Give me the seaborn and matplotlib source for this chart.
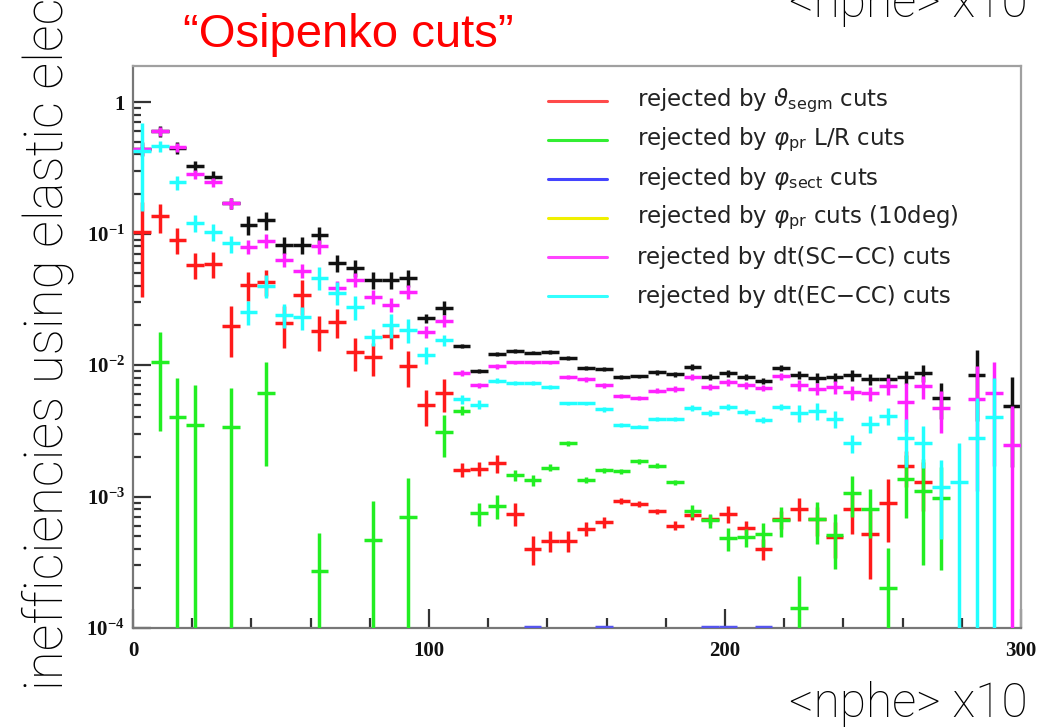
import numpy as np
import matplotlib
matplotlib.use("Agg")
import matplotlib.pyplot as plt
from matplotlib.lines import Line2D
from matplotlib.ticker import FixedLocator, MultipleLocator, LogLocator, NullFormatter
import seaborn as sns

nan = np.nan

# <nphe> binning: 50 bins of width 6 (units of 0.1 photoelectrons)
nphe_edges = np.arange(0, 301, 6)
nphe_centers = 0.5 * (nphe_edges[:-1] + nphe_edges[1:])
half_width = 3.0

# fraction of elastic electrons rejected, per bin (total and per cut)
total_rej = [0.44, 0.60, 0.45, 0.325, 0.27, 0.17, 0.117, 0.126, 0.082, 0.082,
             0.098, 0.060, 0.055, 0.0446, 0.0446, 0.046, 0.0228, 0.0272, 0.0140, 0.0090,
             0.0121, 0.0128, 0.0124, 0.0126, 0.0113, 0.0095, 0.0093, 0.0081, 0.0082, 0.0088,
             0.0085, 0.0097, 0.0081, 0.0087, 0.0081, 0.0076, 0.0095, 0.0084, 0.0080, 0.0081,
             0.0084, 0.0078, 0.0078, 0.0081, 0.0087, 0.0056, nan, 0.0084, nan, 0.0049]
total_rel = [0.12, 0.10, 0.10, 0.10, 0.10, 0.10, 0.17, 0.15, 0.15, 0.15,
             0.15, 0.15, 0.15, 0.15, 0.15, 0.15, 0.08, 0.12, 0.04, 0.04,
             0.04, 0.03, 0.03, 0.03, 0.03, 0.03, 0.04, 0.03, 0.03, 0.04,
             0.04, 0.05, 0.05, 0.06, 0.05, 0.05, 0.06, 0.07, 0.08, 0.08,
             0.10, 0.10, 0.10, 0.12, 0.15, 0.30, nan, 0.55, nan, 0.66]

theta_segm_rej = [0.1035, 0.135, 0.090, 0.058, 0.059, 0.0199, 0.0408, 0.0430, 0.0209, 0.0342,
                  0.0182, 0.0213, 0.0126, 0.0115, 0.0166, 0.0098, 0.00495, 0.0061, 0.0016, 0.00163,
                  0.00179, 0.00074, 0.00040, 0.00046, 0.00046, 0.00057, 0.00064, 0.00093, 0.00088, 0.00077,
                  0.00060, 0.00072, 0.00067, 0.00074, 0.00058, 0.00040, 0.00067, 0.00081, 0.00067, 0.00049,
                  0.00080, 0.00052, 0.00090, 0.0017, 0.0013, nan, nan, nan, nan, nan]
theta_segm_rel = [0.68, 0.25, 0.22, 0.22, 0.22, 0.42, 0.25, 0.22, 0.35, 0.30,
                  0.30, 0.25, 0.28, 0.28, 0.20, 0.30, 0.30, 0.28, 0.12, 0.12,
                  0.15, 0.20, 0.25, 0.18, 0.18, 0.12, 0.10, 0.05, 0.05, 0.05,
                  0.08, 0.08, 0.08, 0.15, 0.12, 0.18, 0.15, 0.20, 0.25, 0.30,
                  0.35, 0.55, 0.50, 0.30, 0.40, nan, nan, nan, nan, nan]

phi_lr_rej = [nan, 0.0105, 0.0040, 0.00348, nan, 0.00336, nan, 0.0061, nan, nan,
              0.000272, nan, nan, 0.00047, nan, 0.00070, nan, 0.0031, 0.0045, 0.00075,
              0.00085, 0.00145, 0.00133, 0.00166, 0.00254, 0.00133, 0.00158, 0.00155, 0.00185, 0.00172,
              0.00128, 0.00078, 0.00066, 0.00048, 0.00049, 0.00052, 0.00066, 0.000142, 0.00067, 0.00051,
              0.00107, 0.00081, 0.000202, 0.00137, 0.00111, 0.00098, nan, nan, nan, nan]
phi_lr_rel = [nan, 0.70, 1.00, 1.02, nan, 1.00, nan, 0.72, nan, nan,
              0.95, nan, nan, 0.98, nan, 0.99, nan, 0.35, 0.08, 0.20,
              0.20, 0.10, 0.10, 0.06, 0.04, 0.05, 0.04, 0.04, 0.04, 0.04,
              0.05, 0.10, 0.12, 0.20, 0.15, 0.20, 0.25, 0.75, 0.35, 0.45,
              0.35, 0.40, 1.00, 0.50, 0.73, 0.72, nan, nan, nan, nan]

phi_sect_rej = [nan] * 22 + [1.02e-4] + [nan] * 3 + [1.02e-4] + [nan] * 5 + \
               [1.02e-4, 1.02e-4, nan, 1.02e-4] + [nan] * 14
phi_sect_rel = [0.0] * 50

phi_pr10_rej = [nan] * 50
phi_pr10_rel = [0.0] * 50

dt_sc_rej = [0.438, 0.60, 0.453, 0.282, 0.245, 0.170, 0.0796, 0.0885, 0.0634, 0.052,
             0.080, 0.0387, 0.0446, 0.0330, 0.0287, 0.0361, 0.0179, 0.0217, 0.0087, 0.0070,
             0.0098, 0.0105, 0.0105, 0.0105, 0.0081, 0.0078, 0.0070, 0.0058, 0.0056, 0.0064,
             0.0066, 0.0081, 0.0068, 0.0074, 0.0070, 0.0067, 0.0082, 0.0070, 0.0066, 0.0068,
             0.0062, 0.0061, 0.0069, 0.0052, 0.0069, 0.0047, nan, 0.0055, 0.0061, 0.00245]
dt_sc_rel = [0.10, 0.08, 0.08, 0.08, 0.08, 0.10, 0.12, 0.12, 0.12, 0.12,
             0.12, 0.12, 0.12, 0.12, 0.12, 0.12, 0.10, 0.10, 0.05, 0.05,
             0.04, 0.03, 0.03, 0.03, 0.03, 0.04, 0.04, 0.04, 0.04, 0.04,
             0.05, 0.05, 0.05, 0.06, 0.06, 0.06, 0.06, 0.10, 0.10, 0.12,
             0.12, 0.12, 0.15, 0.40, 0.20, 0.35, nan, 0.80, 0.72, 1.00]

dt_ec_rej = [0.423, 0.461, 0.245, 0.121, 0.1035, 0.084, 0.0254, 0.0401, 0.0241, 0.0232,
             0.0461, 0.0355, 0.0277, 0.0164, 0.0202, 0.0185, 0.0119, 0.0155, 0.0055, 0.0050,
             0.0076, 0.0073, 0.0073, 0.0068, 0.0051, 0.0051, 0.0046, 0.0035, 0.0034, 0.0039,
             0.0039, 0.0047, 0.0043, 0.0048, 0.0044, 0.0038, 0.0048, 0.0043, 0.0045, 0.0039,
             0.00254, 0.00355, 0.0041, 0.0028, 0.00254, 0.00119, 0.00128, 0.0028, 0.0040, nan]
dt_ec_rel = [0.65, 0.10, 0.12, 0.15, 0.15, 0.15, 0.20, 0.20, 0.20, 0.20,
             0.20, 0.20, 0.20, 0.15, 0.20, 0.20, 0.15, 0.10, 0.08, 0.08,
             0.04, 0.03, 0.03, 0.03, 0.03, 0.03, 0.04, 0.03, 0.03, 0.04,
             0.04, 0.05, 0.05, 0.05, 0.05, 0.05, 0.06, 0.15, 0.15, 0.15,
             0.15, 0.15, 0.15, 0.40, 0.35, 0.60, 1.00, 1.00, 1.00, nan]

legend_labels = [r"rejected by $\vartheta_{\mathrm{segm}}$ cuts",
                 r"rejected by $\varphi_{\mathrm{pr}}$ L/R cuts",
                 r"rejected by $\varphi_{\mathrm{sect}}$ cuts",
                 r"rejected by $\varphi_{\mathrm{pr}}$ cuts (10deg)",
                 "rejected by dt(SC\u2212CC) cuts",
                 "rejected by dt(EC\u2212CC) cuts"]
legend_colors = ["#ff4a4a", "#33ee33", "#4444ff", "#f0f000", "#ff44ff", "#33ffff"]

y_ticks = [1e-4, 1e-3, 1e-2, 1e-1, 1.0]
y_ticklabels = [r"$\mathregular{10^{-4}}$", r"$\mathregular{10^{-3}}$",
                r"$\mathregular{10^{-2}}$", r"$\mathregular{10^{-1}}$", "1"]
x_ticks = [0, 100, 200, 300]
x_ticklabels = ["0", "100", "200", "300"]

sns.set_theme(style="white")
plt.rcParams["font.family"] = ["DejaVu Sans"]
plt.rcParams["mathtext.fontset"] = "custom"
plt.rcParams["mathtext.rm"] = "Liberation Serif:bold"
plt.rcParams["mathtext.bf"] = "Liberation Serif:bold"

W, H = 1049, 727
fig = plt.figure(figsize=(W / 100, H / 100), dpi=100)
fig.patch.set_facecolor("white")
ax = fig.add_axes([133 / W, 1 - 628 / H, 888 / W, 562 / H])
ax.set_facecolor("white")
ax.set_yscale("log")
ax.set_xlim(0, 300)
ax.set_ylim(1e-4, 1.88)


def draw_series(vals, rel, color, z):
    v = np.asarray(vals, float)
    r = np.nan_to_num(np.asarray(rel, float))
    ok = np.isfinite(v)
    up = r * v
    down = np.minimum(up, v * 0.999)  # lower edge below zero runs off the frame
    ax.errorbar(nphe_centers[ok], v[ok], xerr=half_width,
                yerr=[down[ok], up[ok]], fmt="none", ecolor=color,
                elinewidth=2.5, capsize=0, zorder=z)


draw_series(total_rej, total_rel, "#111111", 2)
draw_series(theta_segm_rej, theta_segm_rel, "#ff1a1a", 3)
draw_series(phi_lr_rej, phi_lr_rel, "#22ee22", 4)
draw_series(phi_sect_rej, phi_sect_rel, "#5555ee", 5)
draw_series(phi_pr10_rej, phi_pr10_rel, "#eeee00", 6)
draw_series(dt_sc_rej, dt_sc_rel, "#ff22ff", 7)
draw_series(dt_ec_rej, dt_ec_rel, "#22ffff", 8)

# axes, ticks and tick labels
for side, sp in ax.spines.items():
    sp.set_visible(True)
    sp.set_color("#a0a0a0" if side in ("top", "right") else "#777777")
    sp.set_linewidth(1.6)

ax.xaxis.set_major_locator(FixedLocator(x_ticks))
ax.xaxis.set_minor_locator(MultipleLocator(20))
ax.set_xticklabels(x_ticklabels)
ax.yaxis.set_major_locator(FixedLocator(y_ticks))
ax.yaxis.set_minor_locator(LogLocator(base=10, subs=np.arange(2, 10)))
ax.yaxis.set_minor_formatter(NullFormatter())
ax.set_yticklabels(y_ticklabels)

ax.tick_params(which="both", direction="in", color="#333333", width=1.6,
               top=False, right=False, left=True, bottom=True)
ax.tick_params(axis="x", which="major", length=14, pad=9)
ax.tick_params(axis="x", which="minor", length=7)
ax.tick_params(axis="y", which="major", length=13, pad=6)
ax.tick_params(axis="y", which="minor", length=6)
for lab in ax.get_xticklabels() + ax.get_yticklabels():
    lab.set_fontfamily("Liberation Serif")
    lab.set_fontweight("bold")
    lab.set_fontsize(15)
    lab.set_color("#111111")
ax.grid(False)

# legend (no frame)
for k, (lab, col) in enumerate(zip(legend_labels, legend_colors)):
    yy = 1 - (101 + 39 * k) / H
    fig.add_artist(Line2D([548 / W, 607 / W], [yy, yy], color=col, lw=2.2,
                          transform=fig.transFigure))
    fig.text(637 / W, yy, lab, fontsize=16.5, color="#222222", va="center",
             ha="left", family="DejaVu Sans", math_fontfamily="dejavusans")

# titles and axis captions
fig.text(183 / W, 1 - 47 / H, "\u201cOsipenko cuts\u201d", color="#ff0000",
         fontsize=34, family="Liberation Sans", va="baseline", ha="left")
cap_font = dict(family=["Roboto", "DejaVu Sans"], fontweight="light", color="black")
fig.text(1028 / W, 1 - 717 / H, "<nphe> x10", fontsize=34.5, ha="right",
         va="baseline", **cap_font)
fig.text(1028 / W, 1 - 17 / H, "<nphe> x10", fontsize=34.5, ha="right",
         va="baseline", **cap_font)
fig.text(62 / W, 1 - 690 / H, "inefficiencies using elastic electrons",
         rotation=90, rotation_mode="anchor", ha="left", va="baseline",
         fontsize=38, **cap_font)

fig.savefig("out.png", dpi=100, facecolor="white")
